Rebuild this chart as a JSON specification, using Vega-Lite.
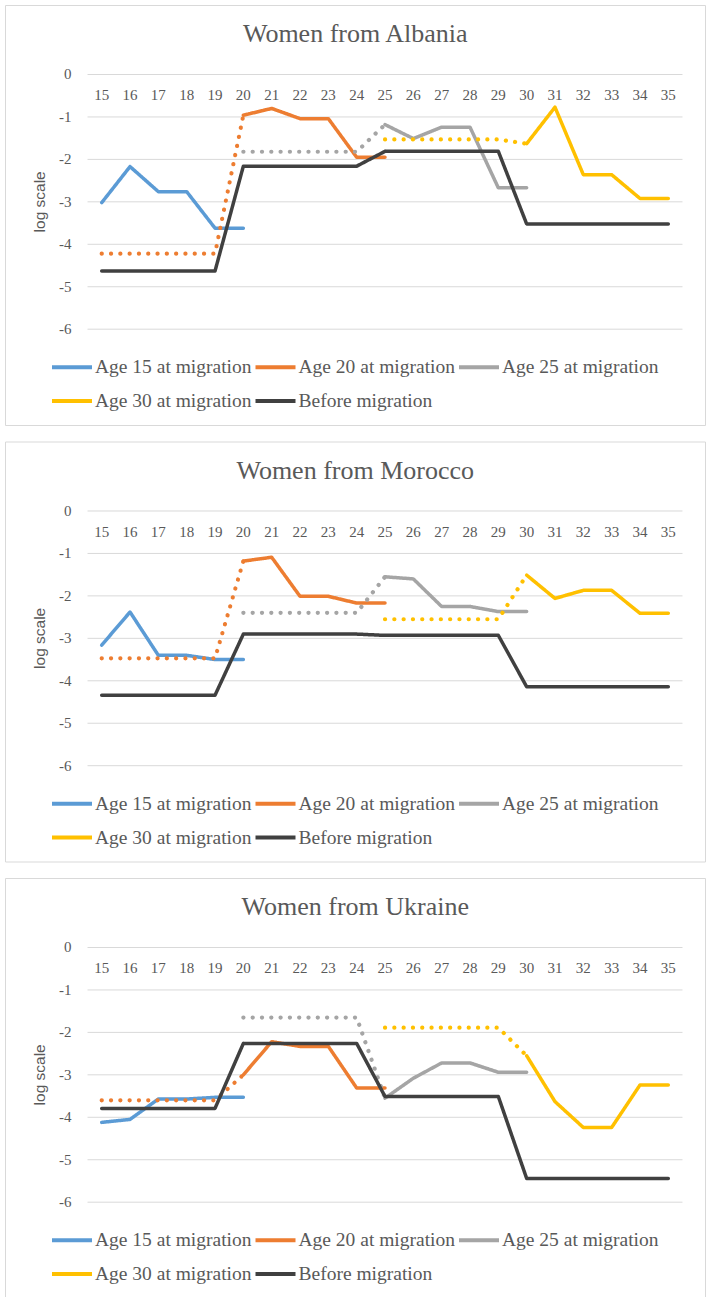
{
  "$schema": "https://vega.github.io/schema/vega-lite/v6.json",
  "background": "white",
  "padding": {"left": 4, "top": 4, "right": 4, "bottom": 2},
  "datasets": {
    "grid": [{"g": 0}, {"g": -1}, {"g": -2}, {"g": -3}, {"g": -4}, {"g": -5}, {"g": -6}],
    "ages": [
      {"age": 15}, {"age": 16}, {"age": 17}, {"age": 18}, {"age": 19}, {"age": 20}, {"age": 21},
      {"age": 22}, {"age": 23}, {"age": 24}, {"age": 25}, {"age": 26}, {"age": 27}, {"age": 28},
      {"age": 29}, {"age": 30}, {"age": 31}, {"age": 32}, {"age": 33}, {"age": 34}, {"age": 35}
    ],
    "series": [
      {"country": "Albania", "series": "Age 15 at migration", "seg": "solid", "age": 15, "v": -3.02},
      {"country": "Albania", "series": "Age 15 at migration", "seg": "solid", "age": 16, "v": -2.17},
      {"country": "Albania", "series": "Age 15 at migration", "seg": "solid", "age": 17, "v": -2.76},
      {"country": "Albania", "series": "Age 15 at migration", "seg": "solid", "age": 18, "v": -2.76},
      {"country": "Albania", "series": "Age 15 at migration", "seg": "solid", "age": 19, "v": -3.62},
      {"country": "Albania", "series": "Age 15 at migration", "seg": "solid", "age": 20, "v": -3.62},
      {"country": "Albania", "series": "Age 20 at migration", "seg": "dotted", "age": 15, "v": -4.22},
      {"country": "Albania", "series": "Age 20 at migration", "seg": "dotted", "age": 16, "v": -4.22},
      {"country": "Albania", "series": "Age 20 at migration", "seg": "dotted", "age": 17, "v": -4.22},
      {"country": "Albania", "series": "Age 20 at migration", "seg": "dotted", "age": 18, "v": -4.22},
      {"country": "Albania", "series": "Age 20 at migration", "seg": "dotted", "age": 19, "v": -4.22},
      {"country": "Albania", "series": "Age 20 at migration", "seg": "dotted", "age": 20, "v": -0.96},
      {"country": "Albania", "series": "Age 20 at migration", "seg": "solid", "age": 20, "v": -0.96},
      {"country": "Albania", "series": "Age 20 at migration", "seg": "solid", "age": 21, "v": -0.8},
      {"country": "Albania", "series": "Age 20 at migration", "seg": "solid", "age": 22, "v": -1.04},
      {"country": "Albania", "series": "Age 20 at migration", "seg": "solid", "age": 23, "v": -1.04},
      {"country": "Albania", "series": "Age 20 at migration", "seg": "solid", "age": 24, "v": -1.95},
      {"country": "Albania", "series": "Age 20 at migration", "seg": "solid", "age": 25, "v": -1.95},
      {"country": "Albania", "series": "Age 25 at migration", "seg": "dotted", "age": 20, "v": -1.82},
      {"country": "Albania", "series": "Age 25 at migration", "seg": "dotted", "age": 21, "v": -1.82},
      {"country": "Albania", "series": "Age 25 at migration", "seg": "dotted", "age": 22, "v": -1.82},
      {"country": "Albania", "series": "Age 25 at migration", "seg": "dotted", "age": 23, "v": -1.82},
      {"country": "Albania", "series": "Age 25 at migration", "seg": "dotted", "age": 24, "v": -1.82},
      {"country": "Albania", "series": "Age 25 at migration", "seg": "dotted", "age": 25, "v": -1.18},
      {"country": "Albania", "series": "Age 25 at migration", "seg": "solid", "age": 25, "v": -1.18},
      {"country": "Albania", "series": "Age 25 at migration", "seg": "solid", "age": 26, "v": -1.51},
      {"country": "Albania", "series": "Age 25 at migration", "seg": "solid", "age": 27, "v": -1.24},
      {"country": "Albania", "series": "Age 25 at migration", "seg": "solid", "age": 28, "v": -1.24},
      {"country": "Albania", "series": "Age 25 at migration", "seg": "solid", "age": 29, "v": -2.67},
      {"country": "Albania", "series": "Age 25 at migration", "seg": "solid", "age": 30, "v": -2.67},
      {"country": "Albania", "series": "Age 30 at migration", "seg": "dotted", "age": 25, "v": -1.53},
      {"country": "Albania", "series": "Age 30 at migration", "seg": "dotted", "age": 26, "v": -1.53},
      {"country": "Albania", "series": "Age 30 at migration", "seg": "dotted", "age": 27, "v": -1.53},
      {"country": "Albania", "series": "Age 30 at migration", "seg": "dotted", "age": 28, "v": -1.53},
      {"country": "Albania", "series": "Age 30 at migration", "seg": "dotted", "age": 29, "v": -1.53},
      {"country": "Albania", "series": "Age 30 at migration", "seg": "dotted", "age": 30, "v": -1.63},
      {"country": "Albania", "series": "Age 30 at migration", "seg": "solid", "age": 30, "v": -1.63},
      {"country": "Albania", "series": "Age 30 at migration", "seg": "solid", "age": 31, "v": -0.77},
      {"country": "Albania", "series": "Age 30 at migration", "seg": "solid", "age": 32, "v": -2.36},
      {"country": "Albania", "series": "Age 30 at migration", "seg": "solid", "age": 33, "v": -2.36},
      {"country": "Albania", "series": "Age 30 at migration", "seg": "solid", "age": 34, "v": -2.92},
      {"country": "Albania", "series": "Age 30 at migration", "seg": "solid", "age": 35, "v": -2.92},
      {"country": "Albania", "series": "Before migration", "seg": "solid", "age": 15, "v": -4.63},
      {"country": "Albania", "series": "Before migration", "seg": "solid", "age": 16, "v": -4.63},
      {"country": "Albania", "series": "Before migration", "seg": "solid", "age": 17, "v": -4.63},
      {"country": "Albania", "series": "Before migration", "seg": "solid", "age": 18, "v": -4.63},
      {"country": "Albania", "series": "Before migration", "seg": "solid", "age": 19, "v": -4.63},
      {"country": "Albania", "series": "Before migration", "seg": "solid", "age": 20, "v": -2.16},
      {"country": "Albania", "series": "Before migration", "seg": "solid", "age": 21, "v": -2.16},
      {"country": "Albania", "series": "Before migration", "seg": "solid", "age": 22, "v": -2.16},
      {"country": "Albania", "series": "Before migration", "seg": "solid", "age": 23, "v": -2.16},
      {"country": "Albania", "series": "Before migration", "seg": "solid", "age": 24, "v": -2.16},
      {"country": "Albania", "series": "Before migration", "seg": "solid", "age": 25, "v": -1.81},
      {"country": "Albania", "series": "Before migration", "seg": "solid", "age": 26, "v": -1.81},
      {"country": "Albania", "series": "Before migration", "seg": "solid", "age": 27, "v": -1.81},
      {"country": "Albania", "series": "Before migration", "seg": "solid", "age": 28, "v": -1.81},
      {"country": "Albania", "series": "Before migration", "seg": "solid", "age": 29, "v": -1.81},
      {"country": "Albania", "series": "Before migration", "seg": "solid", "age": 30, "v": -3.52},
      {"country": "Albania", "series": "Before migration", "seg": "solid", "age": 31, "v": -3.52},
      {"country": "Albania", "series": "Before migration", "seg": "solid", "age": 32, "v": -3.52},
      {"country": "Albania", "series": "Before migration", "seg": "solid", "age": 33, "v": -3.52},
      {"country": "Albania", "series": "Before migration", "seg": "solid", "age": 34, "v": -3.52},
      {"country": "Albania", "series": "Before migration", "seg": "solid", "age": 35, "v": -3.52},

      {"country": "Morocco", "series": "Age 15 at migration", "seg": "solid", "age": 15, "v": -3.16},
      {"country": "Morocco", "series": "Age 15 at migration", "seg": "solid", "age": 16, "v": -2.38},
      {"country": "Morocco", "series": "Age 15 at migration", "seg": "solid", "age": 17, "v": -3.4},
      {"country": "Morocco", "series": "Age 15 at migration", "seg": "solid", "age": 18, "v": -3.4},
      {"country": "Morocco", "series": "Age 15 at migration", "seg": "solid", "age": 19, "v": -3.5},
      {"country": "Morocco", "series": "Age 15 at migration", "seg": "solid", "age": 20, "v": -3.5},
      {"country": "Morocco", "series": "Age 20 at migration", "seg": "dotted", "age": 15, "v": -3.47},
      {"country": "Morocco", "series": "Age 20 at migration", "seg": "dotted", "age": 16, "v": -3.47},
      {"country": "Morocco", "series": "Age 20 at migration", "seg": "dotted", "age": 17, "v": -3.47},
      {"country": "Morocco", "series": "Age 20 at migration", "seg": "dotted", "age": 18, "v": -3.47},
      {"country": "Morocco", "series": "Age 20 at migration", "seg": "dotted", "age": 19, "v": -3.47},
      {"country": "Morocco", "series": "Age 20 at migration", "seg": "dotted", "age": 20, "v": -1.18},
      {"country": "Morocco", "series": "Age 20 at migration", "seg": "solid", "age": 20, "v": -1.18},
      {"country": "Morocco", "series": "Age 20 at migration", "seg": "solid", "age": 21, "v": -1.09},
      {"country": "Morocco", "series": "Age 20 at migration", "seg": "solid", "age": 22, "v": -2.01},
      {"country": "Morocco", "series": "Age 20 at migration", "seg": "solid", "age": 23, "v": -2.01},
      {"country": "Morocco", "series": "Age 20 at migration", "seg": "solid", "age": 24, "v": -2.17},
      {"country": "Morocco", "series": "Age 20 at migration", "seg": "solid", "age": 25, "v": -2.17},
      {"country": "Morocco", "series": "Age 25 at migration", "seg": "dotted", "age": 20, "v": -2.4},
      {"country": "Morocco", "series": "Age 25 at migration", "seg": "dotted", "age": 21, "v": -2.4},
      {"country": "Morocco", "series": "Age 25 at migration", "seg": "dotted", "age": 22, "v": -2.4},
      {"country": "Morocco", "series": "Age 25 at migration", "seg": "dotted", "age": 23, "v": -2.4},
      {"country": "Morocco", "series": "Age 25 at migration", "seg": "dotted", "age": 24, "v": -2.4},
      {"country": "Morocco", "series": "Age 25 at migration", "seg": "dotted", "age": 25, "v": -1.55},
      {"country": "Morocco", "series": "Age 25 at migration", "seg": "solid", "age": 25, "v": -1.55},
      {"country": "Morocco", "series": "Age 25 at migration", "seg": "solid", "age": 26, "v": -1.6},
      {"country": "Morocco", "series": "Age 25 at migration", "seg": "solid", "age": 27, "v": -2.25},
      {"country": "Morocco", "series": "Age 25 at migration", "seg": "solid", "age": 28, "v": -2.25},
      {"country": "Morocco", "series": "Age 25 at migration", "seg": "solid", "age": 29, "v": -2.37},
      {"country": "Morocco", "series": "Age 25 at migration", "seg": "solid", "age": 30, "v": -2.37},
      {"country": "Morocco", "series": "Age 30 at migration", "seg": "dotted", "age": 25, "v": -2.55},
      {"country": "Morocco", "series": "Age 30 at migration", "seg": "dotted", "age": 26, "v": -2.55},
      {"country": "Morocco", "series": "Age 30 at migration", "seg": "dotted", "age": 27, "v": -2.55},
      {"country": "Morocco", "series": "Age 30 at migration", "seg": "dotted", "age": 28, "v": -2.55},
      {"country": "Morocco", "series": "Age 30 at migration", "seg": "dotted", "age": 29, "v": -2.55},
      {"country": "Morocco", "series": "Age 30 at migration", "seg": "dotted", "age": 30, "v": -1.51},
      {"country": "Morocco", "series": "Age 30 at migration", "seg": "solid", "age": 30, "v": -1.51},
      {"country": "Morocco", "series": "Age 30 at migration", "seg": "solid", "age": 31, "v": -2.06},
      {"country": "Morocco", "series": "Age 30 at migration", "seg": "solid", "age": 32, "v": -1.87},
      {"country": "Morocco", "series": "Age 30 at migration", "seg": "solid", "age": 33, "v": -1.87},
      {"country": "Morocco", "series": "Age 30 at migration", "seg": "solid", "age": 34, "v": -2.41},
      {"country": "Morocco", "series": "Age 30 at migration", "seg": "solid", "age": 35, "v": -2.41},
      {"country": "Morocco", "series": "Before migration", "seg": "solid", "age": 15, "v": -4.34},
      {"country": "Morocco", "series": "Before migration", "seg": "solid", "age": 16, "v": -4.34},
      {"country": "Morocco", "series": "Before migration", "seg": "solid", "age": 17, "v": -4.34},
      {"country": "Morocco", "series": "Before migration", "seg": "solid", "age": 18, "v": -4.34},
      {"country": "Morocco", "series": "Before migration", "seg": "solid", "age": 19, "v": -4.34},
      {"country": "Morocco", "series": "Before migration", "seg": "solid", "age": 20, "v": -2.9},
      {"country": "Morocco", "series": "Before migration", "seg": "solid", "age": 21, "v": -2.9},
      {"country": "Morocco", "series": "Before migration", "seg": "solid", "age": 22, "v": -2.9},
      {"country": "Morocco", "series": "Before migration", "seg": "solid", "age": 23, "v": -2.9},
      {"country": "Morocco", "series": "Before migration", "seg": "solid", "age": 24, "v": -2.9},
      {"country": "Morocco", "series": "Before migration", "seg": "solid", "age": 25, "v": -2.93},
      {"country": "Morocco", "series": "Before migration", "seg": "solid", "age": 26, "v": -2.93},
      {"country": "Morocco", "series": "Before migration", "seg": "solid", "age": 27, "v": -2.93},
      {"country": "Morocco", "series": "Before migration", "seg": "solid", "age": 28, "v": -2.93},
      {"country": "Morocco", "series": "Before migration", "seg": "solid", "age": 29, "v": -2.93},
      {"country": "Morocco", "series": "Before migration", "seg": "solid", "age": 30, "v": -4.14},
      {"country": "Morocco", "series": "Before migration", "seg": "solid", "age": 31, "v": -4.14},
      {"country": "Morocco", "series": "Before migration", "seg": "solid", "age": 32, "v": -4.14},
      {"country": "Morocco", "series": "Before migration", "seg": "solid", "age": 33, "v": -4.14},
      {"country": "Morocco", "series": "Before migration", "seg": "solid", "age": 34, "v": -4.14},
      {"country": "Morocco", "series": "Before migration", "seg": "solid", "age": 35, "v": -4.14},

      {"country": "Ukraine", "series": "Age 15 at migration", "seg": "solid", "age": 15, "v": -4.12},
      {"country": "Ukraine", "series": "Age 15 at migration", "seg": "solid", "age": 16, "v": -4.05},
      {"country": "Ukraine", "series": "Age 15 at migration", "seg": "solid", "age": 17, "v": -3.57},
      {"country": "Ukraine", "series": "Age 15 at migration", "seg": "solid", "age": 18, "v": -3.57},
      {"country": "Ukraine", "series": "Age 15 at migration", "seg": "solid", "age": 19, "v": -3.53},
      {"country": "Ukraine", "series": "Age 15 at migration", "seg": "solid", "age": 20, "v": -3.53},
      {"country": "Ukraine", "series": "Age 20 at migration", "seg": "dotted", "age": 15, "v": -3.6},
      {"country": "Ukraine", "series": "Age 20 at migration", "seg": "dotted", "age": 16, "v": -3.6},
      {"country": "Ukraine", "series": "Age 20 at migration", "seg": "dotted", "age": 17, "v": -3.6},
      {"country": "Ukraine", "series": "Age 20 at migration", "seg": "dotted", "age": 18, "v": -3.6},
      {"country": "Ukraine", "series": "Age 20 at migration", "seg": "dotted", "age": 19, "v": -3.6},
      {"country": "Ukraine", "series": "Age 20 at migration", "seg": "dotted", "age": 20, "v": -3.0},
      {"country": "Ukraine", "series": "Age 20 at migration", "seg": "solid", "age": 20, "v": -3.0},
      {"country": "Ukraine", "series": "Age 20 at migration", "seg": "solid", "age": 21, "v": -2.22},
      {"country": "Ukraine", "series": "Age 20 at migration", "seg": "solid", "age": 22, "v": -2.33},
      {"country": "Ukraine", "series": "Age 20 at migration", "seg": "solid", "age": 23, "v": -2.33},
      {"country": "Ukraine", "series": "Age 20 at migration", "seg": "solid", "age": 24, "v": -3.31},
      {"country": "Ukraine", "series": "Age 20 at migration", "seg": "solid", "age": 25, "v": -3.31},
      {"country": "Ukraine", "series": "Age 25 at migration", "seg": "dotted", "age": 20, "v": -1.65},
      {"country": "Ukraine", "series": "Age 25 at migration", "seg": "dotted", "age": 21, "v": -1.65},
      {"country": "Ukraine", "series": "Age 25 at migration", "seg": "dotted", "age": 22, "v": -1.65},
      {"country": "Ukraine", "series": "Age 25 at migration", "seg": "dotted", "age": 23, "v": -1.65},
      {"country": "Ukraine", "series": "Age 25 at migration", "seg": "dotted", "age": 24, "v": -1.65},
      {"country": "Ukraine", "series": "Age 25 at migration", "seg": "dotted", "age": 25, "v": -3.55},
      {"country": "Ukraine", "series": "Age 25 at migration", "seg": "solid", "age": 25, "v": -3.55},
      {"country": "Ukraine", "series": "Age 25 at migration", "seg": "solid", "age": 26, "v": -3.08},
      {"country": "Ukraine", "series": "Age 25 at migration", "seg": "solid", "age": 27, "v": -2.72},
      {"country": "Ukraine", "series": "Age 25 at migration", "seg": "solid", "age": 28, "v": -2.72},
      {"country": "Ukraine", "series": "Age 25 at migration", "seg": "solid", "age": 29, "v": -2.94},
      {"country": "Ukraine", "series": "Age 25 at migration", "seg": "solid", "age": 30, "v": -2.94},
      {"country": "Ukraine", "series": "Age 30 at migration", "seg": "dotted", "age": 25, "v": -1.89},
      {"country": "Ukraine", "series": "Age 30 at migration", "seg": "dotted", "age": 26, "v": -1.89},
      {"country": "Ukraine", "series": "Age 30 at migration", "seg": "dotted", "age": 27, "v": -1.89},
      {"country": "Ukraine", "series": "Age 30 at migration", "seg": "dotted", "age": 28, "v": -1.89},
      {"country": "Ukraine", "series": "Age 30 at migration", "seg": "dotted", "age": 29, "v": -1.89},
      {"country": "Ukraine", "series": "Age 30 at migration", "seg": "dotted", "age": 30, "v": -2.55},
      {"country": "Ukraine", "series": "Age 30 at migration", "seg": "solid", "age": 30, "v": -2.55},
      {"country": "Ukraine", "series": "Age 30 at migration", "seg": "solid", "age": 31, "v": -3.63},
      {"country": "Ukraine", "series": "Age 30 at migration", "seg": "solid", "age": 32, "v": -4.24},
      {"country": "Ukraine", "series": "Age 30 at migration", "seg": "solid", "age": 33, "v": -4.24},
      {"country": "Ukraine", "series": "Age 30 at migration", "seg": "solid", "age": 34, "v": -3.24},
      {"country": "Ukraine", "series": "Age 30 at migration", "seg": "solid", "age": 35, "v": -3.24},
      {"country": "Ukraine", "series": "Before migration", "seg": "solid", "age": 15, "v": -3.79},
      {"country": "Ukraine", "series": "Before migration", "seg": "solid", "age": 16, "v": -3.79},
      {"country": "Ukraine", "series": "Before migration", "seg": "solid", "age": 17, "v": -3.79},
      {"country": "Ukraine", "series": "Before migration", "seg": "solid", "age": 18, "v": -3.79},
      {"country": "Ukraine", "series": "Before migration", "seg": "solid", "age": 19, "v": -3.79},
      {"country": "Ukraine", "series": "Before migration", "seg": "solid", "age": 20, "v": -2.26},
      {"country": "Ukraine", "series": "Before migration", "seg": "solid", "age": 21, "v": -2.26},
      {"country": "Ukraine", "series": "Before migration", "seg": "solid", "age": 22, "v": -2.26},
      {"country": "Ukraine", "series": "Before migration", "seg": "solid", "age": 23, "v": -2.26},
      {"country": "Ukraine", "series": "Before migration", "seg": "solid", "age": 24, "v": -2.26},
      {"country": "Ukraine", "series": "Before migration", "seg": "solid", "age": 25, "v": -3.51},
      {"country": "Ukraine", "series": "Before migration", "seg": "solid", "age": 26, "v": -3.51},
      {"country": "Ukraine", "series": "Before migration", "seg": "solid", "age": 27, "v": -3.51},
      {"country": "Ukraine", "series": "Before migration", "seg": "solid", "age": 28, "v": -3.51},
      {"country": "Ukraine", "series": "Before migration", "seg": "solid", "age": 29, "v": -3.51},
      {"country": "Ukraine", "series": "Before migration", "seg": "solid", "age": 30, "v": -5.44},
      {"country": "Ukraine", "series": "Before migration", "seg": "solid", "age": 31, "v": -5.44},
      {"country": "Ukraine", "series": "Before migration", "seg": "solid", "age": 32, "v": -5.44},
      {"country": "Ukraine", "series": "Before migration", "seg": "solid", "age": 33, "v": -5.44},
      {"country": "Ukraine", "series": "Before migration", "seg": "solid", "age": 34, "v": -5.44},
      {"country": "Ukraine", "series": "Before migration", "seg": "solid", "age": 35, "v": -5.44}
    ]
  },
  "spacing": 14.5,
  "vconcat": [
    {
      "width": 700,
      "height": 420,
      "layer": [
        {
          "data": {"name": "grid"},
          "mark": {"type": "rule", "color": "#D9D9D9", "strokeWidth": 1},
          "encoding": {
            "x": {"datum": 14.5, "type": "quantitative", "scale": {"domain": [11.587, 36.295], "nice": false, "zero": false}, "axis": null},
            "x2": {"datum": 35.5},
            "y": {"field": "g", "type": "quantitative", "scale": {"domain": [-8.257, 1.637], "nice": false, "zero": false}, "axis": null}
          }
        },
        {
          "data": {"name": "grid"},
          "mark": {"type": "text", "font": "Liberation Serif", "fontSize": 15, "color": "#595959", "align": "right", "baseline": "middle"},
          "encoding": {
            "x": {"datum": 13.934, "type": "quantitative", "scale": {"domain": [11.587, 36.295], "nice": false, "zero": false}, "axis": null},
            "y": {"field": "g", "type": "quantitative", "scale": {"domain": [-8.257, 1.637], "nice": false, "zero": false}, "axis": null},
            "text": {"field": "g", "type": "nominal"}
          }
        },
        {
          "data": {"name": "ages"},
          "mark": {"type": "text", "font": "Liberation Serif", "fontSize": 15, "color": "#595959", "align": "center", "baseline": "middle"},
          "encoding": {
            "x": {"field": "age", "type": "quantitative", "scale": {"domain": [11.587, 36.295], "nice": false, "zero": false}, "axis": null},
            "y": {"datum": -0.49, "type": "quantitative", "scale": {"domain": [-8.257, 1.637], "nice": false, "zero": false}, "axis": null},
            "text": {"field": "age", "type": "nominal"}
          }
        },
        {
          "data": {"values": [{"t": "log scale"}]},
          "mark": {"type": "text", "font": "Liberation Sans", "fontSize": 15.5, "color": "#595959", "angle": 270, "align": "center", "baseline": "middle"},
          "encoding": {
            "x": {"datum": 12.805, "type": "quantitative", "scale": {"domain": [11.587, 36.295], "nice": false, "zero": false}, "axis": null},
            "y": {"datum": -3.0, "type": "quantitative", "scale": {"domain": [-8.257, 1.637], "nice": false, "zero": false}, "axis": null},
            "text": {"field": "t", "type": "nominal"}
          }
        },
        {
          "data": {"values": [{"t": "Women from Albania"}]},
          "mark": {"type": "text", "font": "Liberation Serif", "fontSize": 26, "color": "#595959", "align": "center", "baseline": "alphabetic"},
          "encoding": {
            "x": {"datum": 23.95, "type": "quantitative", "scale": {"domain": [11.587, 36.295], "nice": false, "zero": false}, "axis": null},
            "y": {"datum": 0.754, "type": "quantitative", "scale": {"domain": [-8.257, 1.637], "nice": false, "zero": false}, "axis": null},
            "text": {"field": "t", "type": "nominal"}
          }
        },
        {
          "data": {"name": "series"},
          "transform": [{"filter": "datum.country == 'Albania'"}],
          "mark": {"type": "line", "strokeCap": "round", "strokeJoin": "round"},
          "encoding": {
            "x": {"field": "age", "type": "quantitative", "scale": {"domain": [11.587, 36.295], "nice": false, "zero": false}, "axis": null},
            "y": {"field": "v", "type": "quantitative", "scale": {"domain": [-8.257, 1.637], "nice": false, "zero": false}, "axis": null},
            "color": {
              "field": "series",
              "type": "nominal",
              "scale": {
                "domain": ["Age 15 at migration", "Age 20 at migration", "Age 25 at migration", "Age 30 at migration", "Before migration"],
                "range": ["#5B9BD5", "#ED7D31", "#A5A5A5", "#FFC000", "#404040"]
              },
              "legend": {
                "orient": "none", "legendX": 57, "legendY": 352, "columns": 3, "direction": "horizontal", "title": null, "padding": 0,
                "symbolType": "M-2.5,0H2.5", "symbolSize": 256, "symbolStrokeWidth": 4,
                "labelOffset": 13, "columnPadding": -4.5, "rowPadding": 14,
                "labelFont": "Liberation Serif", "labelFontSize": 19.5, "labelColor": "#595959", "labelLimit": 0
              }
            },
            "strokeDash": {
              "field": "seg",
              "type": "nominal",
              "scale": {"domain": ["solid", "dotted"], "range": [[1, 0], [0.1, 9.2]]},
              "legend": null
            },
            "strokeWidth": {
              "field": "seg",
              "type": "nominal",
              "scale": {"domain": ["solid", "dotted"], "range": [3.5, 4.2]},
              "legend": null
            }
          }
        }
      ]
    },
    {
      "width": 700,
      "height": 420,
      "layer": [
        {
          "data": {"name": "grid"},
          "mark": {"type": "rule", "color": "#D9D9D9", "strokeWidth": 1},
          "encoding": {
            "x": {"datum": 14.5, "type": "quantitative", "scale": {"domain": [11.587, 36.295], "nice": false, "zero": false}, "axis": null},
            "x2": {"datum": 35.5},
            "y": {"field": "g", "type": "quantitative", "scale": {"domain": [-8.257, 1.637], "nice": false, "zero": false}, "axis": null}
          }
        },
        {
          "data": {"name": "grid"},
          "mark": {"type": "text", "font": "Liberation Serif", "fontSize": 15, "color": "#595959", "align": "right", "baseline": "middle"},
          "encoding": {
            "x": {"datum": 13.934, "type": "quantitative", "scale": {"domain": [11.587, 36.295], "nice": false, "zero": false}, "axis": null},
            "y": {"field": "g", "type": "quantitative", "scale": {"domain": [-8.257, 1.637], "nice": false, "zero": false}, "axis": null},
            "text": {"field": "g", "type": "nominal"}
          }
        },
        {
          "data": {"name": "ages"},
          "mark": {"type": "text", "font": "Liberation Serif", "fontSize": 15, "color": "#595959", "align": "center", "baseline": "middle"},
          "encoding": {
            "x": {"field": "age", "type": "quantitative", "scale": {"domain": [11.587, 36.295], "nice": false, "zero": false}, "axis": null},
            "y": {"datum": -0.49, "type": "quantitative", "scale": {"domain": [-8.257, 1.637], "nice": false, "zero": false}, "axis": null},
            "text": {"field": "age", "type": "nominal"}
          }
        },
        {
          "data": {"values": [{"t": "log scale"}]},
          "mark": {"type": "text", "font": "Liberation Sans", "fontSize": 15.5, "color": "#595959", "angle": 270, "align": "center", "baseline": "middle"},
          "encoding": {
            "x": {"datum": 12.805, "type": "quantitative", "scale": {"domain": [11.587, 36.295], "nice": false, "zero": false}, "axis": null},
            "y": {"datum": -3.0, "type": "quantitative", "scale": {"domain": [-8.257, 1.637], "nice": false, "zero": false}, "axis": null},
            "text": {"field": "t", "type": "nominal"}
          }
        },
        {
          "data": {"values": [{"t": "Women from Morocco"}]},
          "mark": {"type": "text", "font": "Liberation Serif", "fontSize": 26, "color": "#595959", "align": "center", "baseline": "alphabetic"},
          "encoding": {
            "x": {"datum": 23.95, "type": "quantitative", "scale": {"domain": [11.587, 36.295], "nice": false, "zero": false}, "axis": null},
            "y": {"datum": 0.754, "type": "quantitative", "scale": {"domain": [-8.257, 1.637], "nice": false, "zero": false}, "axis": null},
            "text": {"field": "t", "type": "nominal"}
          }
        },
        {
          "data": {"name": "series"},
          "transform": [{"filter": "datum.country == 'Morocco'"}],
          "mark": {"type": "line", "strokeCap": "round", "strokeJoin": "round"},
          "encoding": {
            "x": {"field": "age", "type": "quantitative", "scale": {"domain": [11.587, 36.295], "nice": false, "zero": false}, "axis": null},
            "y": {"field": "v", "type": "quantitative", "scale": {"domain": [-8.257, 1.637], "nice": false, "zero": false}, "axis": null},
            "color": {
              "field": "series",
              "type": "nominal",
              "scale": {
                "domain": ["Age 15 at migration", "Age 20 at migration", "Age 25 at migration", "Age 30 at migration", "Before migration"],
                "range": ["#5B9BD5", "#ED7D31", "#A5A5A5", "#FFC000", "#404040"]
              },
              "legend": {
                "orient": "none", "legendX": 57, "legendY": 352, "columns": 3, "direction": "horizontal", "title": null, "padding": 0,
                "symbolType": "M-2.5,0H2.5", "symbolSize": 256, "symbolStrokeWidth": 4,
                "labelOffset": 13, "columnPadding": -4.5, "rowPadding": 14,
                "labelFont": "Liberation Serif", "labelFontSize": 19.5, "labelColor": "#595959", "labelLimit": 0
              }
            },
            "strokeDash": {
              "field": "seg",
              "type": "nominal",
              "scale": {"domain": ["solid", "dotted"], "range": [[1, 0], [0.1, 9.2]]},
              "legend": null
            },
            "strokeWidth": {
              "field": "seg",
              "type": "nominal",
              "scale": {"domain": ["solid", "dotted"], "range": [3.5, 4.2]},
              "legend": null
            }
          }
        }
      ]
    },
    {
      "width": 700,
      "height": 420,
      "layer": [
        {
          "data": {"name": "grid"},
          "mark": {"type": "rule", "color": "#D9D9D9", "strokeWidth": 1},
          "encoding": {
            "x": {"datum": 14.5, "type": "quantitative", "scale": {"domain": [11.587, 36.295], "nice": false, "zero": false}, "axis": null},
            "x2": {"datum": 35.5},
            "y": {"field": "g", "type": "quantitative", "scale": {"domain": [-8.257, 1.637], "nice": false, "zero": false}, "axis": null}
          }
        },
        {
          "data": {"name": "grid"},
          "mark": {"type": "text", "font": "Liberation Serif", "fontSize": 15, "color": "#595959", "align": "right", "baseline": "middle"},
          "encoding": {
            "x": {"datum": 13.934, "type": "quantitative", "scale": {"domain": [11.587, 36.295], "nice": false, "zero": false}, "axis": null},
            "y": {"field": "g", "type": "quantitative", "scale": {"domain": [-8.257, 1.637], "nice": false, "zero": false}, "axis": null},
            "text": {"field": "g", "type": "nominal"}
          }
        },
        {
          "data": {"name": "ages"},
          "mark": {"type": "text", "font": "Liberation Serif", "fontSize": 15, "color": "#595959", "align": "center", "baseline": "middle"},
          "encoding": {
            "x": {"field": "age", "type": "quantitative", "scale": {"domain": [11.587, 36.295], "nice": false, "zero": false}, "axis": null},
            "y": {"datum": -0.49, "type": "quantitative", "scale": {"domain": [-8.257, 1.637], "nice": false, "zero": false}, "axis": null},
            "text": {"field": "age", "type": "nominal"}
          }
        },
        {
          "data": {"values": [{"t": "log scale"}]},
          "mark": {"type": "text", "font": "Liberation Sans", "fontSize": 15.5, "color": "#595959", "angle": 270, "align": "center", "baseline": "middle"},
          "encoding": {
            "x": {"datum": 12.805, "type": "quantitative", "scale": {"domain": [11.587, 36.295], "nice": false, "zero": false}, "axis": null},
            "y": {"datum": -3.0, "type": "quantitative", "scale": {"domain": [-8.257, 1.637], "nice": false, "zero": false}, "axis": null},
            "text": {"field": "t", "type": "nominal"}
          }
        },
        {
          "data": {"values": [{"t": "Women from Ukraine"}]},
          "mark": {"type": "text", "font": "Liberation Serif", "fontSize": 26, "color": "#595959", "align": "center", "baseline": "alphabetic"},
          "encoding": {
            "x": {"datum": 23.95, "type": "quantitative", "scale": {"domain": [11.587, 36.295], "nice": false, "zero": false}, "axis": null},
            "y": {"datum": 0.754, "type": "quantitative", "scale": {"domain": [-8.257, 1.637], "nice": false, "zero": false}, "axis": null},
            "text": {"field": "t", "type": "nominal"}
          }
        },
        {
          "data": {"name": "series"},
          "transform": [{"filter": "datum.country == 'Ukraine'"}],
          "mark": {"type": "line", "strokeCap": "round", "strokeJoin": "round"},
          "encoding": {
            "x": {"field": "age", "type": "quantitative", "scale": {"domain": [11.587, 36.295], "nice": false, "zero": false}, "axis": null},
            "y": {"field": "v", "type": "quantitative", "scale": {"domain": [-8.257, 1.637], "nice": false, "zero": false}, "axis": null},
            "color": {
              "field": "series",
              "type": "nominal",
              "scale": {
                "domain": ["Age 15 at migration", "Age 20 at migration", "Age 25 at migration", "Age 30 at migration", "Before migration"],
                "range": ["#5B9BD5", "#ED7D31", "#A5A5A5", "#FFC000", "#404040"]
              },
              "legend": {
                "orient": "none", "legendX": 57, "legendY": 352, "columns": 3, "direction": "horizontal", "title": null, "padding": 0,
                "symbolType": "M-2.5,0H2.5", "symbolSize": 256, "symbolStrokeWidth": 4,
                "labelOffset": 13, "columnPadding": -4.5, "rowPadding": 14,
                "labelFont": "Liberation Serif", "labelFontSize": 19.5, "labelColor": "#595959", "labelLimit": 0
              }
            },
            "strokeDash": {
              "field": "seg",
              "type": "nominal",
              "scale": {"domain": ["solid", "dotted"], "range": [[1, 0], [0.1, 9.2]]},
              "legend": null
            },
            "strokeWidth": {
              "field": "seg",
              "type": "nominal",
              "scale": {"domain": ["solid", "dotted"], "range": [3.5, 4.2]},
              "legend": null
            }
          }
        }
      ]
    }
  ],
  "resolve": {"legend": {"color": "independent"}},
  "config": {
    "view": {"stroke": "#D9D9D9", "strokeWidth": 1},
    "font": "Liberation Serif"
  }
}
